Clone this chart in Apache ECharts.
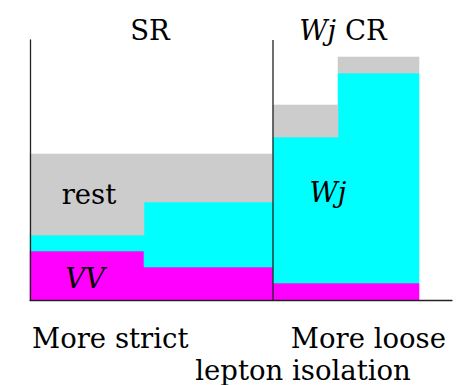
<!DOCTYPE html>
<html>
<head>
<meta charset="utf-8">
<script src="https://cdn.jsdelivr.net/npm/echarts@6/dist/echarts.min.js"></script>
<style>html,body{margin:0;padding:0;background:#fff}#c{width:458px;height:385px}</style>
</head>
<body>
<div id="c"></div>
<script>
// Bin edges along the isolation axis (arbitrary units)
const binEdges = [0, 113.5, 243, 308, 389];
// Stacked contributions per bin (arbitrary units)
const vvValues = [49.3, 32.7, 16.7, 16.7];
const wjValues = [15.7, 65, 146, 210.7];
const restValues = [81, 48.3, 32.3, 16];
const seriesNames = ['VV', 'Wj', 'rest'];
const seriesColors = ['#ff00ff', '#00ffff', '#cccccc'];
const regionSplit = 243;

const stacks = [vvValues, wjValues, restValues];
const base = binEdges.slice(0, -1).map(() => 0);
const series = stacks.map((vals, s) => {
  const data = vals.map((v, i) => {
    const item = [binEdges[i], binEdges[i + 1], base[i], base[i] + v];
    base[i] += v;
    return item;
  });
  return {
    type: 'custom',
    name: seriesNames[s],
    data: data,
    z: 2,
    renderItem: function (params, api) {
      const p0 = api.coord([api.value(0), api.value(3)]);
      const p1 = api.coord([api.value(1), api.value(2)]);
      const x0 = Math.round(p0[0]), x1 = Math.round(p1[0]);
      const y0 = Math.round(p0[1]), y1 = Math.round(p1[1]);
      return {
        type: 'rect',
        shape: { x: x0, y: y0, width: x1 - x0, height: y1 - y0 },
        style: { fill: seriesColors[s], stroke: seriesColors[s], lineWidth: 0.6 }
      };
    }
  };
});
series.push({
  type: 'custom',
  name: 'split',
  data: [[regionSplit]],
  z: 5,
  renderItem: function (params, api) {
    const a = api.coord([api.value(0), 0]);
    const b = api.coord([api.value(0), 260]);
    return {
      type: 'line',
      shape: { x1: a[0], y1: a[1], x2: b[0], y2: b[1] },
      style: { stroke: '#222', lineWidth: 1.3 }
    };
  }
});

const font = 'DejaVu Serif';
const fs = 27.5;
function txt(x, y, text, align, rich) {
  return {
    type: 'text', x: x, y: y, z: 20,
    style: {
      text: text, fontFamily: font, fontSize: fs, fill: '#000',
      align: align, verticalAlign: 'middle', rich: rich
    }
  };
}
const italic = { i: { fontStyle: 'italic', fontFamily: font, fontSize: fs } };

const chart = echarts.init(document.getElementById('c'), null, { renderer: 'svg' });
chart.setOption({
  animation: false,
  grid: { left: 30, top: 40, width: 422, height: 260, containLabel: false },
  xAxis: {
    type: 'value', min: 0, max: 422, z: 10,
    axisLine: { show: true, onZero: false, lineStyle: { color: '#222', width: 1.3 } },
    axisTick: { show: false }, axisLabel: { show: false }, splitLine: { show: false }
  },
  yAxis: {
    type: 'value', min: 0, max: 260, z: 10,
    axisLine: { show: true, lineStyle: { color: '#222', width: 1.3 } },
    axisTick: { show: false }, axisLabel: { show: false }, splitLine: { show: false }
  },
  series: series,
  graphic: [
    txt(150, 30, 'SR', 'center'),
    txt(343, 30, '{i|Wj} CR', 'center', italic),
    txt(89, 194, 'rest', 'center'),
    txt(85, 278, '{i|VV}', 'center', italic),
    txt(328, 192, '{i|Wj}', 'center', italic),
    txt(32, 338, 'More strict', 'left'),
    txt(446, 338, 'More loose', 'right'),
    txt(303, 370, 'lepton isolation', 'center')
  ]
});
</script>
</body>
</html>
